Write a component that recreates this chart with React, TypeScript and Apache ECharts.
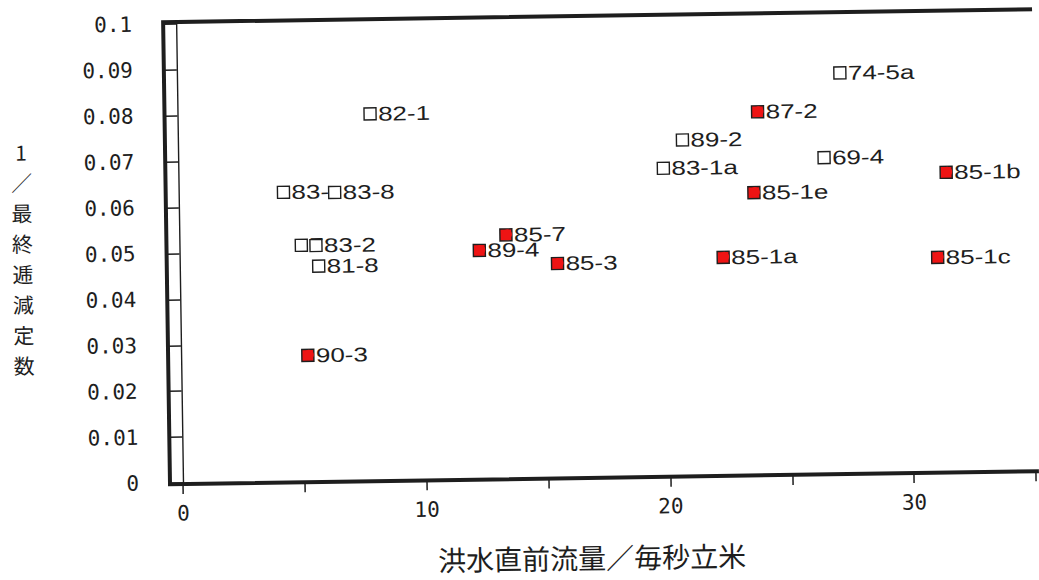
import React, { useEffect, useRef } from "react";
import * as echarts from "echarts";

// 洪水直前流量 (m3/s) vs 1/最終逓減定数
const pointLabels = ["82-1", "83-", "83-8", "7", "83-2", "81-8", "90-3", "89-4", "85-7", "85-3", "83-1a", "89-2", "87-2", "85-1e", "85-1a", "69-4", "74-5a", "85-1c", "85-1b"];
const flowBefore = [7.9, 4.3, 6.4, 5.0, 5.6, 5.7, 5.2, 12.3, 13.4, 15.5, 19.9, 20.7, 23.8, 23.6, 22.3, 26.5, 27.2, 31.1, 31.5];
const recession = [0.0798, 0.063, 0.0628, 0.0514, 0.0513, 0.0468, 0.0274, 0.0497, 0.053, 0.0466, 0.067, 0.0731, 0.079, 0.0614, 0.0474, 0.0688, 0.0872, 0.0467, 0.0652];
const highlighted = [false, false, false, false, false, false, true, true, true, true, false, false, true, true, true, false, false, true, true];

const xTickLabels = [0, 10, 20, 30];
const xTitle = "洪水直前流量／毎秒立米";
const yTitleChars = ["1", "／", "最", "終", "逓", "減", "定", "数"];

const INK = "#1e1e1e";
const RED = "#ee1414";

export default function App() {
  const ref = useRef<HTMLDivElement>(null);

  useEffect(() => {
    if (!ref.current) return;
    const chart = echarts.init(ref.current, undefined, { renderer: "svg" });
    const data = flowBefore.map((x, i) => [x, recession[i], i]);

    chart.setOption({
      animation: false,
      backgroundColor: "#ffffff",
      grid: { left: 183, right: 2, top: 24, bottom: 97, containLabel: false },
      xAxis: {
        type: "value",
        min: 0,
        max: 35,
        interval: 5,
        offset: 1,
        axisLine: { show: false },
        axisTick: { show: true, length: 11, lineStyle: { color: INK, width: 1.5 } },
        axisLabel: {
          margin: 19,
          color: INK,
          fontSize: 21,
          fontFamily: "DejaVu Sans Mono",
          formatter: (v: number) => (xTickLabels.indexOf(v) >= 0 ? String(v) : ""),
        },
        splitLine: { show: false },
      },
      yAxis: [
        {
          type: "value",
          min: 0,
          max: 0.1,
          interval: 0.01,
          position: "left",
          offset: 13,
          axisLine: { show: false },
          axisTick: { show: true, length: 13, lineStyle: { color: INK, width: 1.5 } },
          axisLabel: {
            margin: 31,
            color: INK,
            fontSize: 21,
            fontFamily: "DejaVu Sans Mono",
          },
          splitLine: { show: false },
        },
        {
          type: "value",
          min: 0,
          max: 0.1,
          interval: 0.01,
          position: "left",
          offset: 0,
          axisLine: { show: true, lineStyle: { color: INK, width: 1.4 } },
          axisTick: { show: false },
          axisLabel: { show: false },
          splitLine: { show: false },
        },
      ],
      graphic: [
        {
          type: "rect",
          z: 10,
          shape: { x: 170, y: 22, width: 874, height: 462 },
          style: { fill: "none", stroke: INK, lineWidth: 4 },
          silent: true,
        },
        {
          type: "text",
          x: 26,
          y: 134,
          style: {
            text: yTitleChars.join("\n"),
            fill: INK,
            fontSize: 21,
            fontFamily: "Noto Sans CJK JP",
            lineHeight: 30.5,
            align: "center",
            verticalAlign: "top",
          },
        },
        {
          type: "text",
          x: 591,
          y: 563,
          style: {
            text: xTitle,
            fill: INK,
            fontSize: 28,
            fontFamily: "Noto Sans CJK JP",
            align: "center",
            verticalAlign: "middle",
          },
        },
      ],
      series: [
        {
          type: "custom",
          coordinateSystem: "cartesian2d",
          xAxisIndex: 0,
          yAxisIndex: 0,
          data,
          clip: false,
          renderItem: (params: any, api: any) => {
            const i = api.value(2);
            const p = api.coord([api.value(0), api.value(1)]);
            const red = highlighted[i];
            const s = 12;
            const children: any[] = [
              {
                type: "rect",
                shape: { x: p[0] - s / 2, y: p[1] - s / 2, width: s, height: s },
                style: { fill: red ? RED : "#ffffff", stroke: INK, lineWidth: 1.4 },
              },
            ];
            if (red) {
              children.push({
                type: "circle",
                shape: { cx: p[0] + 1, cy: p[1] - 0.5, r: 5 },
                style: { fill: RED },
              });
            }
            children.push({
              type: "text",
              x: p[0] + 8,
              y: p[1],
              scaleX: 1.3,
              style: {
                text: pointLabels[i],
                fill: INK,
                fontSize: 20,
                fontFamily: "Liberation Sans",
                align: "left",
                verticalAlign: "middle",
              },
            });
            return { type: "group", children };
          },
        },
      ],
    });

    return () => chart.dispose();
  }, []);

  return (
    <div
      style={{
        position: "fixed",
        left: 0,
        top: 0,
        width: 1039,
        height: 580,
        overflow: "hidden",
        background: "#ffffff",
      }}
    >
      <div
        ref={ref}
        style={{
          width: 1039,
          height: 580,
          transform: "rotate(-0.854deg)",
          transformOrigin: "183px 483px",
        }}
      />
    </div>
  );
}
